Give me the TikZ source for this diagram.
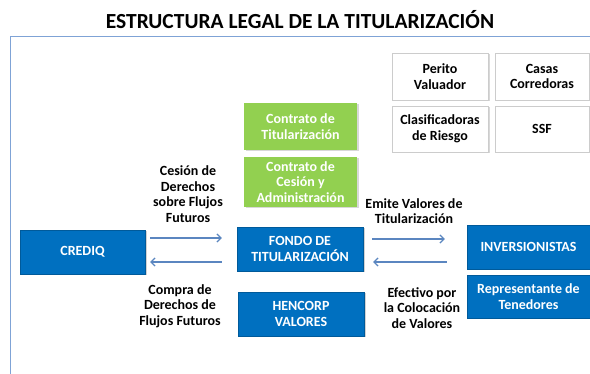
\documentclass[tikz,border=0pt]{standalone}
\usepackage{fontspec}
\setmainfont{Carlito}
\usetikzlibrary{arrows.meta,shadows}
\definecolor{boxblue}{HTML}{0070C0}
\definecolor{boxgreen}{HTML}{92D050}
\definecolor{framecol}{HTML}{7FA3D6}
\definecolor{arrcol}{HTML}{5B86C0}
\begin{document}
\begin{tikzpicture}[x=1pt,y=-1pt,
  every node/.style={font=\bfseries\fontsize{14}{15.5}\selectfont, align=center, inner sep=0pt},
  bluebox/.style={fill=boxblue, text=white, draw=boxblue!80!black, line width=0.3pt,
    drop shadow={shadow xshift=1.5pt, shadow yshift=-1.5pt, opacity=0.35}},
  greenbox/.style={fill=boxgreen, text=white, draw=none,
    drop shadow={shadow xshift=1.5pt, shadow yshift=-1.5pt, opacity=0.3}},
  whitebox/.style={fill=white, text=black, draw=black!20, line width=0.6pt,
    drop shadow={shadow xshift=1.5pt, shadow yshift=-1.5pt, opacity=0.3}},
  lbl/.style={text=black},
  arr/.style={draw=arrcol, line width=1.3pt, -{Straight Barb[length=4pt,width=8pt]}}
]
\useasboundingbox (0,0) rectangle (590,374);
\fill[white] (0,0) rectangle (590,374);
% title
\node (title) at (300,20) {\fontsize{21.5}{25}\selectfont ESTRUCTURA LEGAL DE LA TITULARIZACIÓN};
% frame
\draw[framecol, line width=1pt] (10,374) -- (10,37) -- (590,37);
% white boxes
\node[whitebox, minimum width=96, minimum height=47] (perito) at (440,76.5) {Perito\\Valuador};
\node[whitebox, minimum width=94, minimum height=47] (casas) at (542,76.5) {Casas\\Corredoras};
\node[whitebox, minimum width=96, minimum height=46] (clasif) at (440,129) {Clasificadoras\\de Riesgo};
\node[whitebox, minimum width=94, minimum height=46] (ssf) at (542,129) {SSF};
% green boxes
\node[greenbox, minimum width=113, minimum height=47] (ctit) at (300.5,126.5) {Contrato de\\Titularización};
\node[greenbox, minimum width=113, minimum height=50] (cces) at (300.5,182) {Contrato de\\Cesión y\\Administración};
% blue boxes
\node[bluebox, minimum width=125, minimum height=44] (crediq) at (82.5,252) {CREDIQ};
\node[bluebox, minimum width=126, minimum height=44] (fondo) at (300,249) {FONDO DE\\TITULARIZACIÓN};
\node[bluebox, minimum width=126, minimum height=44] (hencorp) at (301,314) {HENCORP\\VALORES};
\node[bluebox, minimum width=123, minimum height=44] (inv) at (528.5,247) {INVERSIONISTAS};
\node[bluebox, minimum width=123, minimum height=43] (rep) at (528.5,296.5) {Representante de\\Tenedores};
% labels
\node[lbl] (l1) at (188,194) {Cesión de\\Derechos\\sobre Flujos\\Futuros};
\node[lbl] (l2) at (180,306) {Compra de\\Derechos de\\Flujos Futuros};
\node[lbl] (l3) at (414,211) {Emite Valores de\\Titularización};
\node[lbl] (l4) at (422,308) {Efectivo por\\la Colocación\\de Valores};
% arrows
\draw[arr] ([shift={(5,-14)}]crediq.east) -- ([shift={(-15,-11)}]fondo.west);
\draw[arr] ([shift={(-15,13)}]fondo.west) -- ([shift={(5,10)}]crediq.east);
\draw[arr] ([shift={(9,-10)}]fondo.east) -- ([shift={(-22,-8)}]inv.west);
\draw[arr] ([shift={(-20,15)}]inv.west) -- ([shift={(10,13)}]fondo.east);
\end{tikzpicture}
\end{document}
